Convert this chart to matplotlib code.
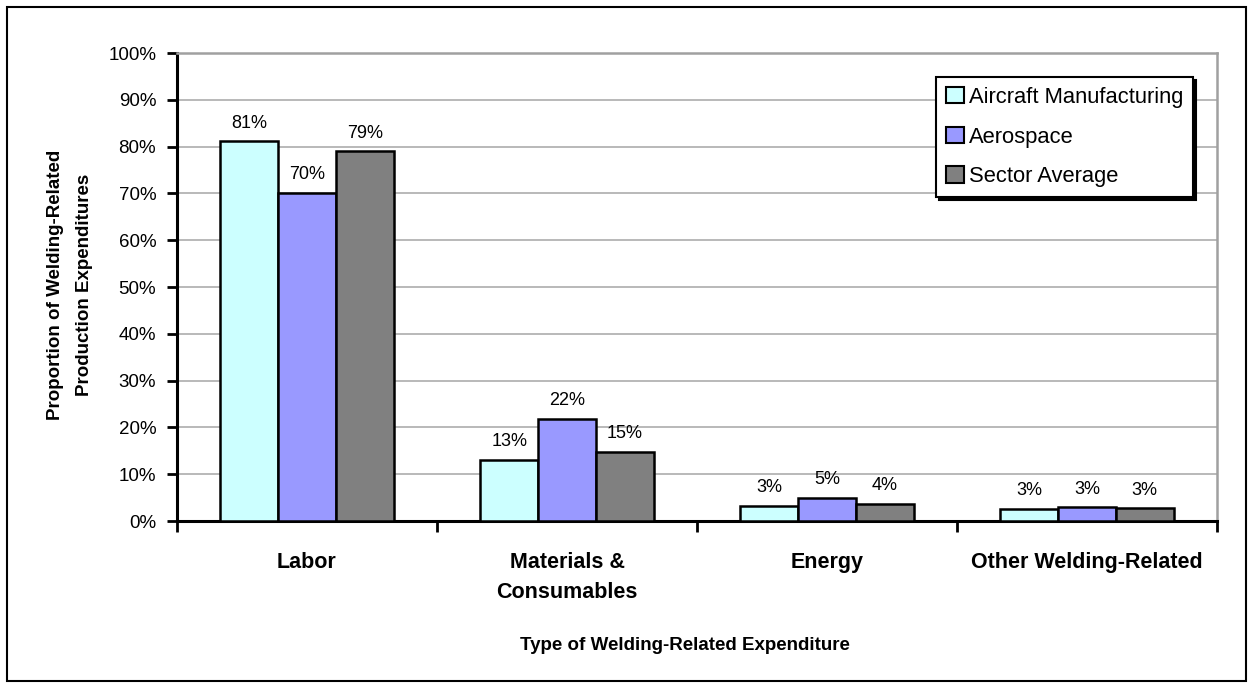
import matplotlib
matplotlib.use("Agg")
import matplotlib.pyplot as plt
from matplotlib.patches import Rectangle
import numpy as np

categories = ["Labor", "Materials &\nConsumables", "Energy", "Other Welding-Related"]
series_names = ["Aircraft Manufacturing", "Aerospace", "Sector Average"]
aircraft = [81.1, 13.1, 3.3, 2.6]
aerospace = [70.1, 21.9, 4.9, 2.9]
sector_avg = [79.0, 14.8, 3.7, 2.7]
yticks = [0, 10, 20, 30, 40, 50, 60, 70, 80, 90, 100]
colors = ["#CCFFFF", "#9999FF", "#808080"]

plt.rcParams["font.family"] = ["Liberation Sans", "DejaVu Sans"]

W, H = 1255, 688
fig = plt.figure(figsize=(W / 100, H / 100), dpi=100)
fig.patch.set_facecolor("white")

# outer frame
fig.patches.append(Rectangle((7 / W, 1 - 681 / H), (1246 - 7) / W, (681 - 7) / H,
                             transform=fig.transFigure, fill=False,
                             edgecolor="black", linewidth=1.5, zorder=0))

ax = fig.add_axes([177 / W, 1 - 521 / H, (1217 - 177) / W, 468 / H])

x = np.arange(len(categories))
bw = 0.222
all_series = [aircraft, aerospace, sector_avg]
for i, (vals, col, nm) in enumerate(zip(all_series, colors, series_names)):
    ax.bar(x + (i - 1) * bw, vals, width=bw, color=col, edgecolor="black",
           linewidth=1.8, label=nm, zorder=3)
    for xi, v in zip(x + (i - 1) * bw, vals):
        ax.annotate(f"{round(v):d}%", (xi, v), xytext=(0, 7), textcoords="offset points",
                    ha="center", va="bottom", fontsize=13, zorder=4)

ax.set_xlim(-0.5, len(categories) - 0.5)
ax.set_ylim(0, 100)
ax.set_yticks(yticks)
ax.set_yticklabels([f"{t}%" for t in yticks], fontsize=13.5)
ax.yaxis.grid(True, color="#a6a6a6", linewidth=1.1, zorder=0)
ax.set_axisbelow(True)

ax.set_xticks(x)
ax.set_xticklabels(categories, fontsize=15.5, fontweight="bold", linespacing=1.6)
ax.tick_params(axis="x", which="major", length=0, pad=22)
ax.set_xticks(np.arange(-0.5, len(categories)), minor=True)
ax.tick_params(axis="x", which="minor", length=8, width=2, direction="out", color="black")
ax.tick_params(axis="y", length=7, width=2, direction="out", pad=8)

for side in ["left", "bottom"]:
    ax.spines[side].set_color("black")
    ax.spines[side].set_linewidth(2.2)
for side in ["top", "right"]:
    ax.spines[side].set_color("#a0a0a0")
    ax.spines[side].set_linewidth(1.8)

leg = ax.legend(loc="upper right", bbox_to_anchor=((1193 - 177) / 1040, (521 - 77) / 468),
                borderaxespad=0, fontsize=15.8, frameon=True, fancybox=False,
                edgecolor="black", handlelength=0.85, handleheight=0.75,
                handletextpad=0.2, labelspacing=0.85, borderpad=0.45,
                shadow={"color": "black", "alpha": 1.0})
leg.get_frame().set_linewidth(1.5)
for h in leg.legend_handles:
    h.set_linewidth(1.5)

fig.text(685 / W, 1 - 646 / H, "Type of Welding-Related Expenditure", ha="center",
         va="center", fontsize=13.5, fontweight="bold")
fig.text(70 / W, 1 - 285 / H, "Proportion of Welding-Related\nProduction Expenditures",
         ha="center", va="center", rotation=90, fontsize=13.5, fontweight="bold",
         multialignment="center", linespacing=1.95)

fig.savefig("out.png", dpi=100, facecolor="white")
